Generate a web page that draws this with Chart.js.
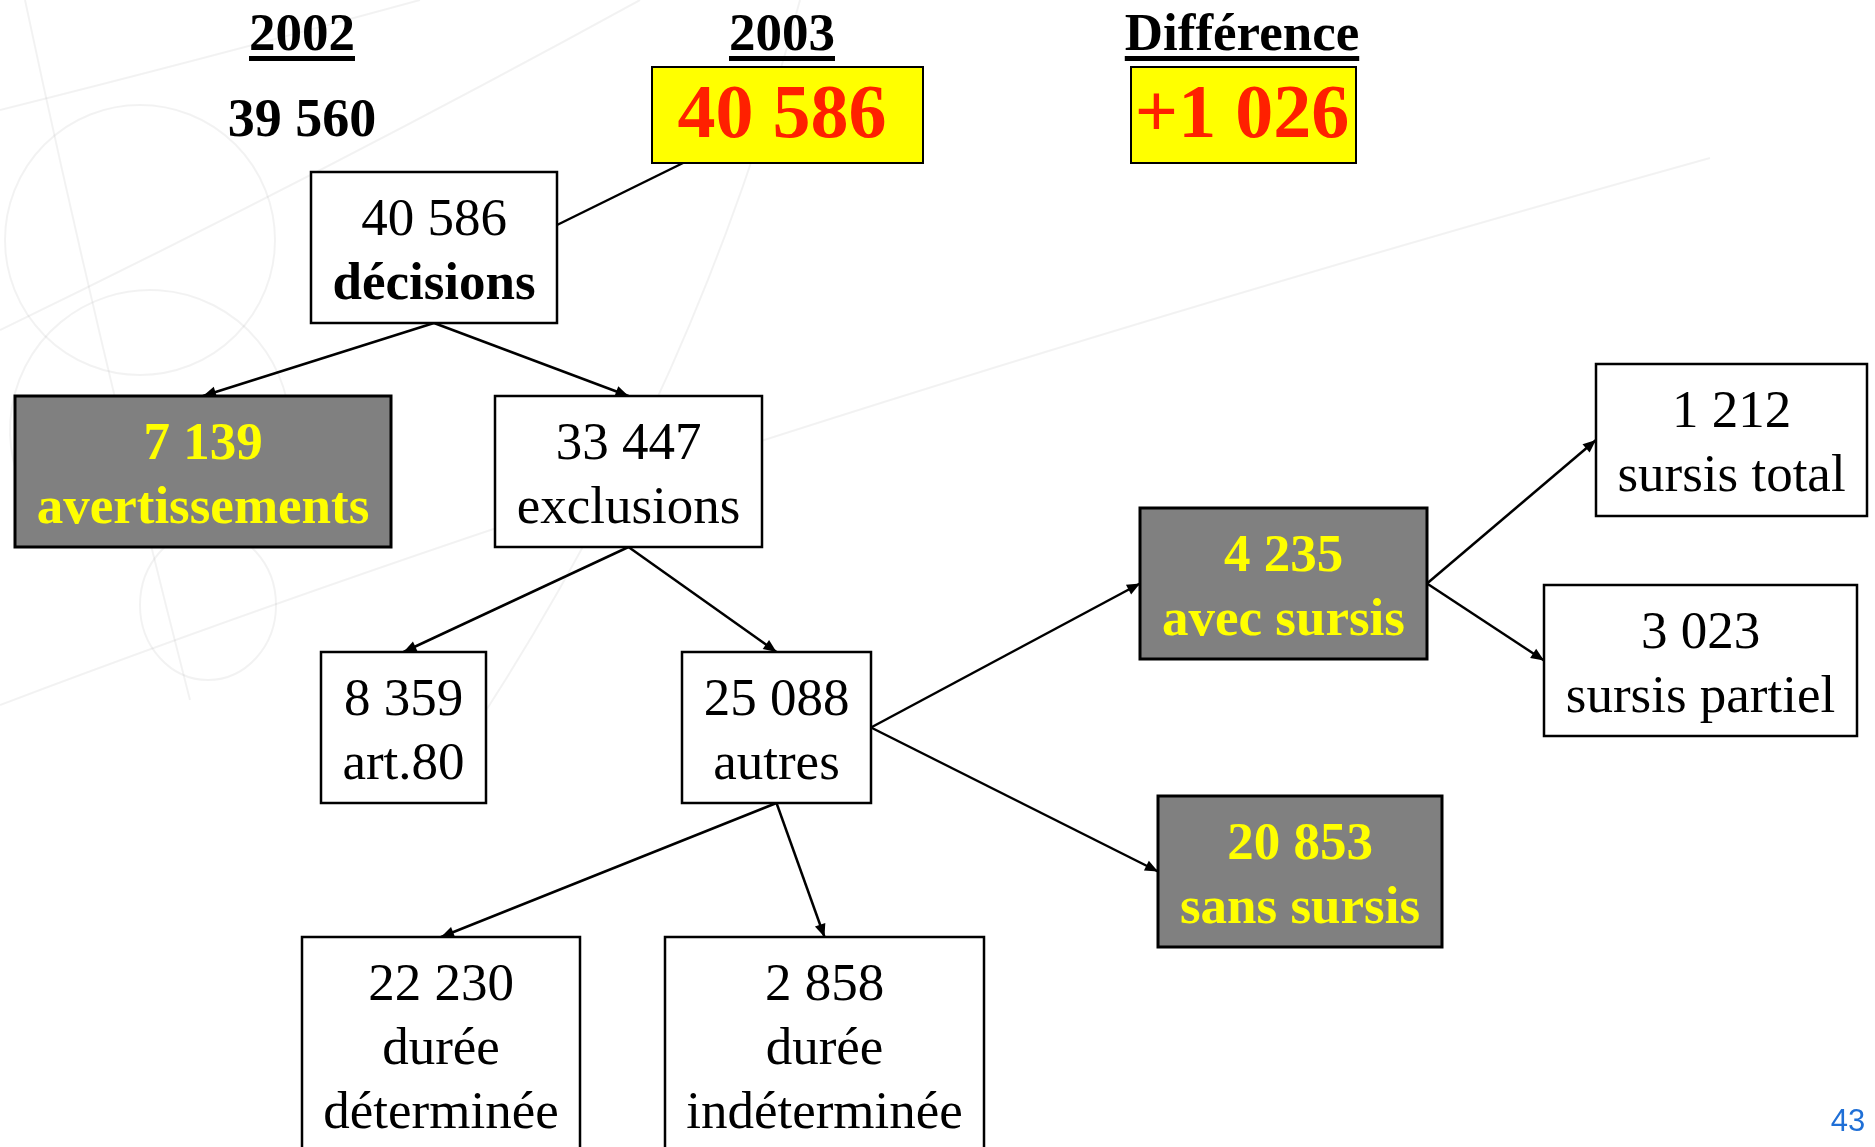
<!DOCTYPE html>
<html>
<head>
    <title>Décisions 2003</title>
    <meta charset="utf-8" />
    <script src="https://cdn.jsdelivr.net/npm/chart.js"></script>
    <style>
        body {
            margin: 0;
            padding: 0;
            background: white;
        }

        #cadre {
            width: 1875px;
            height: 1147px;
            position: relative;
        }
    </style>
</head>
<body>
    <div id="cadre"><canvas id="arbre"></canvas></div>

    <script>
        // --- données ---
        const annees = ["2002", "2003"];
        const totauxAnnee = [39560, 40586];
        const titreDiff = "Différence";
        const difference = totauxAnnee[1] - totauxAnnee[0];

        const noeudsValeurs = [40586, 7139, 33447, 8359, 25088, 22230, 2858, 4235, 20853, 1212, 3023];
        const noeudsLibelles = [
            ["décisions"], ["avertissements"], ["exclusions"], ["art.80"], ["autres"],
            ["durée", "déterminée"], ["durée", "indéterminée"],
            ["avec sursis"], ["sans sursis"], ["sursis total"], ["sursis partiel"]
        ];
        const noeudsParents = [null, 0, 0, 2, 2, 4, 4, 4, 4, 7, 7];
        const numeroPage = "43";

        // --- mise en page (unités des axes = pixels de la page) ---
        const boites = [
            [311, 172, 557, 323], [15, 396, 391, 547], [495, 396, 762, 547],
            [321, 652, 486, 803], [682, 652, 871, 803],
            [302, 937, 580, 1170], [665, 937, 984, 1170],
            [1140, 508, 1427, 659], [1158, 796, 1442, 947],
            [1596, 364, 1867, 516], [1544, 585, 1857, 736]
        ];
        const sortieDroite = [false, false, false, false, false, false, false, true, true, true, true];
        const boitesGrises = [1, 7, 8];
        const enteteX = [302, 782, 1242];
        const caseJaune = [[652, 67, 923, 163], [1131, 67, 1356, 163]];

        const SERIF = "'Liberation Serif', 'Times New Roman', serif";

        const fmt = v => String(Math.abs(v)).replace(/\B(?=(\d{3})+(?!\d))/g, " ");

        const centres = boites.map(b => ({ x: (b[0] + b[2]) / 2, y: (b[1] + b[3]) / 2 }));

        function fleche(ctx, x1, y1, x2, y2, pointe) {
            ctx.beginPath();
            ctx.moveTo(x1, y1);
            ctx.lineTo(x2, y2);
            ctx.stroke();
            if (!pointe) return;
            const a = Math.atan2(y2 - y1, x2 - x1);
            const L = 13, W = 5.5;
            ctx.beginPath();
            ctx.moveTo(x2, y2);
            ctx.lineTo(x2 - L * Math.cos(a) + W * Math.sin(a), y2 - L * Math.sin(a) - W * Math.cos(a));
            ctx.lineTo(x2 - L * Math.cos(a) - W * Math.sin(a), y2 - L * Math.sin(a) + W * Math.cos(a));
            ctx.closePath();
            ctx.fill();
        }

        const dessinArbre = {
            id: "dessinArbre",
            beforeDatasetsDraw(chart) {
                // filigrane de fond
                const ctx = chart.ctx, X = v => chart.scales.x.getPixelForValue(v), Y = v => chart.scales.y.getPixelForValue(v);
                ctx.save();
                ctx.strokeStyle = "rgba(0,0,0,0.05)";
                ctx.lineWidth = 2;
                ctx.beginPath(); ctx.moveTo(X(25), Y(0)); ctx.quadraticCurveTo(X(95), Y(330), X(190), Y(700)); ctx.stroke();
                ctx.beginPath(); ctx.arc(X(140), Y(240), 135, 0, Math.PI * 2); ctx.stroke();
                ctx.beginPath(); ctx.arc(X(150), Y(430), 140, Math.PI * 0.9, Math.PI * 2.1); ctx.stroke();
                ctx.beginPath(); ctx.ellipse(X(208), Y(605), 68, 75, 0, 0, Math.PI * 2); ctx.stroke();
                ctx.beginPath(); ctx.moveTo(X(0), Y(705)); ctx.quadraticCurveTo(X(700), Y(440), X(1710), Y(158)); ctx.stroke();
                ctx.beginPath(); ctx.moveTo(X(0), Y(330)); ctx.quadraticCurveTo(X(330), Y(170), X(640), Y(0)); ctx.stroke();
                ctx.beginPath(); ctx.moveTo(X(800), Y(0)); ctx.quadraticCurveTo(X(700), Y(380), X(480), Y(720)); ctx.stroke();
                ctx.beginPath(); ctx.moveTo(X(0), Y(110)); ctx.quadraticCurveTo(X(200), Y(60), X(420), Y(0)); ctx.stroke();
                ctx.restore();
            },
            afterDatasetsDraw(chart) {
                const ctx = chart.ctx;
                const X = v => chart.scales.x.getPixelForValue(v);
                const Y = v => chart.scales.y.getPixelForValue(v);
                ctx.save();

                // en-têtes
                ctx.textAlign = "center";
                ctx.textBaseline = "alphabetic";
                ctx.fillStyle = "#000";
                ctx.font = `bold 53px ${SERIF}`;
                const titres = [annees[0], annees[1], titreDiff];
                titres.forEach((t, i) => {
                    ctx.fillText(t, X(enteteX[i]), Y(50));
                    const w = ctx.measureText(t).width;
                    ctx.fillRect(X(enteteX[i]) - w / 2, Y(56), w, 5);
                });
                ctx.font = `bold 54px ${SERIF}`;
                ctx.fillText(fmt(totauxAnnee[0]), X(enteteX[0]), Y(136));

                caseJaune.forEach((c, i) => {
                    ctx.fillStyle = "#ffff00";
                    ctx.fillRect(X(c[0]), Y(c[1]), X(c[2]) - X(c[0]), Y(c[3]) - Y(c[1]));
                    ctx.strokeStyle = "#000";
                    ctx.lineWidth = 2;
                    ctx.strokeRect(X(c[0]), Y(c[1]), X(c[2]) - X(c[0]), Y(c[3]) - Y(c[1]));
                    ctx.fillStyle = "#ff2000";
                    ctx.font = `bold 76px ${SERIF}`;
                    const txt = i === 0 ? fmt(totauxAnnee[1]) : (difference >= 0 ? "+" : "-") + fmt(difference);
                    ctx.fillText(txt, X(enteteX[i + 1]), Y(137));
                });

                // liens
                ctx.strokeStyle = "#000";
                ctx.fillStyle = "#000";
                ctx.lineWidth = 2.5;
                fleche(ctx, X(683), Y(163), X(557), Y(225), false);
                noeudsParents.forEach((p, i) => {
                    if (p === null) return;
                    const bp = boites[p], bc = boites[i];
                    if (sortieDroite[i]) {
                        fleche(ctx, X(bp[2]), Y(centres[p].y), X(bc[0]), Y(centres[i].y), true);
                    } else {
                        fleche(ctx, X(centres[p].x), Y(bp[3]), X(centres[i].x), Y(bc[1]), true);
                    }
                });

                // boîtes
                boites.forEach((b, i) => {
                    const gris = boitesGrises.includes(i);
                    const x0 = X(b[0]), y0 = Y(b[1]), w = X(b[2]) - x0, h = Y(b[3]) - y0;
                    ctx.fillStyle = gris ? "#808080" : "#ffffff";
                    ctx.fillRect(x0, y0, w, h);
                    ctx.strokeStyle = "#000";
                    ctx.lineWidth = gris ? 3 : 2.5;
                    ctx.strokeRect(x0, y0, w, h);

                    const lignes = [fmt(noeudsValeurs[i]), ...noeudsLibelles[i]];
                    ctx.fillStyle = gris ? "#ffff00" : "#000";
                    lignes.forEach((t, k) => {
                        const gras = gris || (i === 0 && k > 0);
                        ctx.font = `${gras ? "bold " : ""}53px ${SERIF}`;
                        ctx.fillText(t, X(centres[i].x), y0 + 63 + k * 64);
                    });
                });

                // numéro de page
                ctx.fillStyle = "#1f6fd6";
                ctx.font = "31px 'Liberation Sans', Arial, sans-serif";
                ctx.fillText(numeroPage, X(1848), Y(1131));

                ctx.restore();
            }
        };

        const chart = new Chart(document.getElementById("arbre"), {
            type: "scatter",
            data: {
                datasets: [{
                    label: "décisions",
                    data: centres,
                    pointRadius: 0,
                    pointHoverRadius: 0
                }]
            },
            options: {
                responsive: true,
                maintainAspectRatio: false,
                animation: false,
                layout: { padding: 0 },
                plugins: {
                    legend: { display: false },
                    tooltip: { enabled: false }
                },
                scales: {
                    x: { type: "linear", min: 0, max: 1875, display: false },
                    y: { type: "linear", min: 0, max: 1147, reverse: true, display: false }
                }
            },
            plugins: [dessinArbre]
        });
    </script>
</body>
</html>
